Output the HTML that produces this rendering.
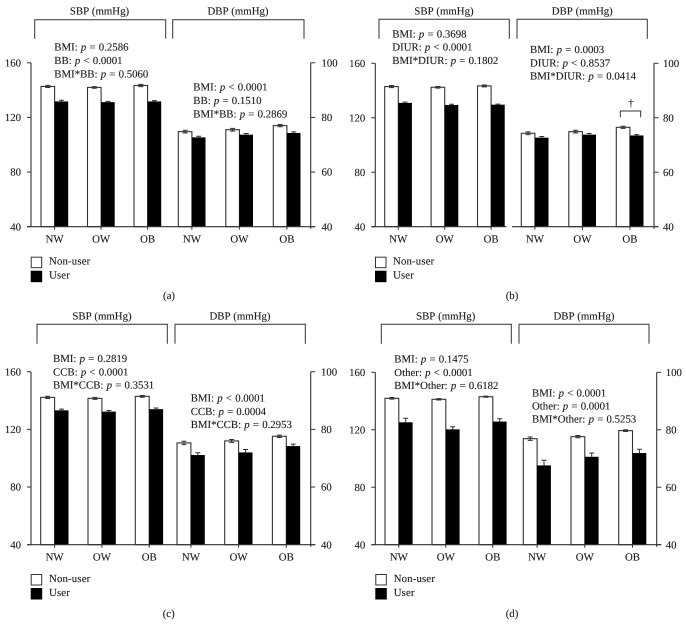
<!DOCTYPE html>
<html lang="en">
<head>
<meta charset="utf-8">
<title>Blood pressure by BMI and medication use</title>
<style>
html,body{margin:0;padding:0;background:#fff;}
#figure{display:block;width:686px;height:636px;}
text{font-family:"Liberation Serif",serif;font-size:10.8px;fill:#1c1c1c;stroke:#1c1c1c;stroke-width:.12px;text-rendering:geometricPrecision;}
.note{word-spacing:.5px;}
.note tspan{font-style:italic;}
</style>
</head>
<body>
<svg id="figure" xmlns="http://www.w3.org/2000/svg" width="686" height="636" viewBox="0 0 686 636">
<g id="marks"></g>

<g>
<text class="note" x="54.3" y="50.7">BMI: <tspan>p</tspan> = 0.2586</text>
<text class="note" x="54.3" y="64">BB: <tspan>p</tspan> &lt; 0.0001</text>
<text class="note" x="54.3" y="77.5">BMI*BB: <tspan>p</tspan> = 0.5060</text>
<text class="note" x="193.3" y="90.7">BMI: <tspan>p</tspan> &lt; 0.0001</text>
<text class="note" x="193.3" y="104">BB: <tspan>p</tspan> = 0.1510</text>
<text class="note" x="193.3" y="117.3">BMI*BB: <tspan>p</tspan> = 0.2869</text>
</g>

<g>
<text class="note" x="392.3" y="37.3">BMI: <tspan>p</tspan> = 0.3698</text>
<text class="note" x="392.3" y="50.7">DIUR: <tspan>p</tspan> &lt; 0.0001</text>
<text class="note" x="392.3" y="64">BMI*DIUR: <tspan>p</tspan> = 0.1802</text>
<text class="note" x="530" y="53">BMI: <tspan>p</tspan> = 0.0003</text>
<text class="note" x="530" y="66.3">DIUR: <tspan>p</tspan> &lt; 0.8537</text>
<text class="note" x="530" y="79.5">BMI*DIUR: <tspan>p</tspan> = 0.0414</text>
<path d="M620.3 117.3V111H640.7V117.3" fill="none" stroke="#333" stroke-width="1"/>
<text x="631" y="106.7" text-anchor="middle">†</text>
</g>

<g>
<text class="note" x="53" y="362">BMI: <tspan>p</tspan> = 0.2819</text>
<text class="note" x="53" y="375.3">CCB: <tspan>p</tspan> &lt; 0.0001</text>
<text class="note" x="53" y="388.5">BMI*CCB: <tspan>p</tspan> = 0.3531</text>
<text class="note" x="190.7" y="401.7">BMI: <tspan>p</tspan> &lt; 0.0001</text>
<text class="note" x="190.7" y="414.8">CCB: <tspan>p</tspan> = 0.0004</text>
<text class="note" x="190.7" y="428">BMI*CCB: <tspan>p</tspan> = 0.2953</text>
</g>

<g>
<text class="note" x="394.3" y="362.7">BMI: <tspan>p</tspan> = 0.1475</text>
<text class="note" x="394.3" y="376">Other: <tspan>p</tspan> &lt; 0.0001</text>
<text class="note" x="394.3" y="389.2">BMI*Other: <tspan>p</tspan> = 0.6182</text>
<text class="note" x="532" y="396.3">BMI: <tspan>p</tspan> &lt; 0.0001</text>
<text class="note" x="532" y="409.5">Other: <tspan>p</tspan> = 0.0001</text>
<text class="note" x="532" y="422.7">BMI*Other: <tspan>p</tspan> = 0.5253</text>
</g>
</svg>

<script>
const categories = ['NW', 'OW', 'OB'];
const leftTicks = [40, 80, 120, 160];
const rightTicks = [40, 60, 80, 100];
const groupTitles = ['SBP (mmHg)', 'DBP (mmHg)'];
const legendLabels = ['Non-user', 'User'];
const panelCaptions = ['(a)', '(b)', '(c)', '(d)'];

const sbpNonUserA = [142.7, 142.0, 143.4];
const sbpUserA = [131.7, 131.2, 131.7];
const dbpNonUserA = [74.8, 75.5, 77.0];
const dbpUserA = [72.7, 73.7, 74.3];
const sbpNonUserErrA = [0.8, 0.6, 0.8];
const sbpUserErrA = [0.9, 0.6, 0.6];
const dbpNonUserErrA = [0.5, 0.5, 0.4];
const dbpUserErrA = [0.4, 0.4, 0.4];

const sbpNonUserB = [142.9, 142.4, 143.4];
const sbpUserB = [130.9, 129.4, 129.6];
const dbpNonUserB = [74.3, 74.9, 76.5];
const dbpUserB = [72.7, 73.8, 73.5];
const sbpNonUserErrB = [0.8, 0.6, 0.7];
const sbpUserErrB = [0.6, 0.5, 0.4];
const dbpNonUserErrB = [0.5, 0.5, 0.4];
const dbpUserErrB = [0.4, 0.4, 0.3];

const sbpNonUserC = [142.2, 141.5, 142.9];
const sbpUserC = [133.2, 132.3, 134.0];
const dbpNonUserC = [75.3, 76.0, 77.6];
const dbpUserC = [71.1, 72.0, 74.2];
const sbpNonUserErrC = [0.8, 0.7, 0.6];
const sbpUserErrC = [0.8, 0.8, 0.8];
const dbpNonUserErrC = [0.6, 0.5, 0.4];
const dbpUserErrC = [0.8, 1.0, 0.7];

const sbpNonUserD = [141.9, 141.2, 143.0];
const sbpUserD = [125.2, 120.3, 125.7];
const dbpNonUserD = [76.9, 77.6, 79.7];
const dbpUserD = [67.6, 70.6, 71.9];
const sbpNonUserErrD = [0.6, 0.5, 0.4];
const sbpUserErrD = [2.8, 1.8, 2.0];
const dbpNonUserErrD = [0.6, 0.4, 0.3];
const dbpUserErrD = [1.8, 1.3, 1.3];

const panelLayouts = [
  {id: 'a', left: 31, right: 310.7, top: 62.8, bottom: 226.7, sbpStart: 41, sbpPitch: 46.5, dbpStart: 178.3, dbpPitch: 47.5, barW: 13.6,
   headL: [34.7, 165.7], headR: [172.7, 304], headTop: 19.7, headBottom: 38.7, titleY: 14.7, titleX: [99.5, 238], catY: 242.3,
   legX: 30.7, legY: [256.7, 270.7], legTextX: 49, legTextY: [264.7, 278.7], capX: 169, capY: 299, rightLabelX: 321.5, gap: null,
   sbpNon: sbpNonUserA, sbpUser: sbpUserA, dbpNon: dbpNonUserA, dbpUser: dbpUserA,
   sbpNonErr: sbpNonUserErrA, sbpUserErr: sbpUserErrA, dbpNonErr: dbpNonUserErrA, dbpUserErr: dbpUserErrA},
  {id: 'b', left: 375.3, right: 654, top: 63.3, bottom: 226.7, sbpStart: 384.7, sbpPitch: 46.4, dbpStart: 521.3, dbpPitch: 47.5, barW: 13.6,
   headL: [379, 509.3], headR: [517, 647.3], headTop: 19.3, headBottom: 38.7, titleY: 14.5, titleX: [444, 582.3], catY: 242.3,
   legX: 375, legY: [256.7, 270.7], legTextX: 393, legTextY: [264.7, 278.7], capX: 512, capY: 299, rightLabelX: 663, gap: [506.5, 512],
   sbpNon: sbpNonUserB, sbpUser: sbpUserB, dbpNon: dbpNonUserB, dbpUser: dbpUserB,
   sbpNonErr: sbpNonUserErrB, sbpUserErr: sbpUserErrB, dbpNonErr: dbpNonUserErrB, dbpUserErr: dbpUserErrB},
  {id: 'c', left: 31, right: 310.7, top: 371.7, bottom: 544.7, sbpStart: 40.7, sbpPitch: 47.3, dbpStart: 177, dbpPitch: 47.7, barW: 13.9,
   headL: [37, 167.3], headR: [175, 305.3], headTop: 324.3, headBottom: 343.7, titleY: 319.7, titleX: [102, 240], catY: 560.3,
   legX: 30.7, legY: [574, 588], legTextX: 49, legTextY: [582, 596], capX: 168.7, capY: 617, rightLabelX: 321, gap: null,
   sbpNon: sbpNonUserC, sbpUser: sbpUserC, dbpNon: dbpNonUserC, dbpUser: dbpUserC,
   sbpNonErr: sbpNonUserErrC, sbpUserErr: sbpUserErrC, dbpNonErr: dbpNonUserErrC, dbpUserErr: dbpUserErrC},
  {id: 'd', left: 375.3, right: 656.7, top: 372.3, bottom: 544.7, sbpStart: 385, sbpPitch: 47, dbpStart: 523.3, dbpPitch: 47.7, barW: 13.8,
   headL: [381.3, 511.3], headR: [519, 649], headTop: 324.3, headBottom: 343.7, titleY: 319.7, titleX: [445.7, 584], catY: 560.3,
   legX: 375.3, legY: [574, 588], legTextX: 393.7, legTextY: [582, 596], capX: 512, capY: 617, rightLabelX: 665.7, gap: null,
   sbpNon: sbpNonUserD, sbpUser: sbpUserD, dbpNon: dbpNonUserD, dbpUser: dbpUserD,
   sbpNonErr: sbpNonUserErrD, sbpUserErr: sbpUserErrD, dbpNonErr: dbpNonUserErrD, dbpUserErr: dbpUserErrD}
];

const SVG_NS = 'http://www.w3.org/2000/svg';
const INK = '#333';
const marksRoot = document.getElementById('marks');

function make(parent, tag, props, content) {
  const el = document.createElementNS(SVG_NS, tag);
  Object.keys(props).forEach(function (k) { el.setAttribute(k, props[k]); });
  if (content !== undefined) el.textContent = content;
  parent.appendChild(el);
  return el;
}

function linearAxis(domainMin, domainMax, rangeBottom, rangeTop) {
  return function (v) {
    return rangeBottom + (v - domainMin) / (domainMax - domainMin) * (rangeTop - rangeBottom);
  };
}

function drawGroup(g, p, label, start, pitch, nonVals, userVals, nonErr, userErr, yScale) {
  categories.forEach(function (cat, i) {
    const x0 = start + pitch * i;
    const yNon = yScale(nonVals[i]);
    const yUser = yScale(userVals[i]);

    const nonBar = make(g, 'rect', {x: x0, y: yNon, width: p.barW, height: p.bottom - yNon, fill: '#fff', stroke: INK, 'stroke-width': 1.1});
    
    

    const userBar = make(g, 'rect', {x: x0 + p.barW, y: yUser, width: p.barW, height: p.bottom - yUser, fill: '#000'});
    
    

    const cxNon = x0 + p.barW / 2;
    const hiNon = yScale(nonVals[i] + nonErr[i]);
    const loNon = yScale(nonVals[i] - nonErr[i]);
    const errNon = make(g, 'path', {
      d: 'M' + (cxNon - 2.5) + ' ' + hiNon + 'H' + (cxNon + 2.5) + 'M' + cxNon + ' ' + hiNon + 'V' + loNon + 'M' + (cxNon - 2.5) + ' ' + loNon + 'H' + (cxNon + 2.5),
      fill: 'none', stroke: INK, 'stroke-width': 1
    });
    
    

    const cxUser = x0 + p.barW * 1.5;
    const hiUser = yScale(userVals[i] + userErr[i]);
    const errUser = make(g, 'path', {
      d: 'M' + (cxUser - 2.5) + ' ' + hiUser + 'H' + (cxUser + 2.5) + 'M' + cxUser + ' ' + hiUser + 'V' + yUser,
      fill: 'none', stroke: INK, 'stroke-width': 1
    });
    
    

    const tickX = x0 + p.barW;
    const catTick = make(g, 'line', {x1: tickX, x2: tickX, y1: p.bottom, y2: p.bottom + 3, stroke: INK, 'stroke-width': 1});
    
    

    const catLabel = make(g, 'text', {x: tickX, y: p.catY, 'text-anchor': 'middle'}, cat);
    
    
  });
}

panelLayouts.forEach(function (p, idx) {
  const g = make(marksRoot, 'g', {});
  
  

  const yLeft = linearAxis(leftTicks[0], leftTicks[leftTicks.length - 1], p.bottom, p.top);
  const yRight = linearAxis(rightTicks[0], rightTicks[rightTicks.length - 1], p.bottom, p.top);

  drawGroup(g, p, 'sbp', p.sbpStart, p.sbpPitch, p.sbpNon, p.sbpUser, p.sbpNonErr, p.sbpUserErr, yLeft);
  drawGroup(g, p, 'dbp', p.dbpStart, p.dbpPitch, p.dbpNon, p.dbpUser, p.dbpNonErr, p.dbpUserErr, yRight);

  const leftAxis = make(g, 'line', {x1: p.left, x2: p.left, y1: p.top, y2: p.bottom, stroke: INK, 'stroke-width': 1.1});
  
  

  const rightAxis = make(g, 'line', {x1: p.right, x2: p.right, y1: p.top, y2: p.bottom + 2, stroke: INK, 'stroke-width': 1.1});
  
  

  const axisPath = p.gap
    ? 'M' + (p.left - 4) + ' ' + p.bottom + 'H' + p.gap[0] + 'M' + p.gap[1] + ' ' + p.bottom + 'H' + (p.right + 4.5)
    : 'M' + (p.left - 4) + ' ' + p.bottom + 'H' + (p.right + 4.5);
  const xAxis = make(g, 'path', {d: axisPath, fill: 'none', stroke: INK, 'stroke-width': 1.1});
  
  

  leftTicks.forEach(function (t) {
    const y = yLeft(t);
    const tick = make(g, 'line', {x1: p.left - 4, x2: p.left, y1: y, y2: y, stroke: INK, 'stroke-width': 1});
    
    
    const lab = make(g, 'text', {x: p.left - 10, y: y + 3.6, 'text-anchor': 'end'}, String(t));
    
    
  });

  rightTicks.forEach(function (t) {
    const y = yRight(t);
    const tick = make(g, 'line', {x1: p.right, x2: p.right + 4.5, y1: y, y2: y, stroke: INK, 'stroke-width': 1});
    
    
    const lab = make(g, 'text', {x: p.rightLabelX, y: y + 3.6}, String(t));
    
    
  });

  [p.headL, p.headR].forEach(function (span, k) {
    const bracket = make(g, 'path', {
      d: 'M' + span[0] + ' ' + p.headBottom + 'V' + p.headTop + 'H' + span[1] + 'V' + p.headBottom,
      fill: 'none', stroke: INK, 'stroke-width': 1
    });
    
    
    const title = make(g, 'text', {x: p.titleX[k], y: p.titleY, 'text-anchor': 'middle', 'word-spacing': '.5'}, groupTitles[k]);
    
    
  });

  legendLabels.forEach(function (name, k) {
    const swatch = make(g, 'rect', {
      x: p.legX + 0.5, y: p.legY[k] + 0.5, width: 10.5, height: 10.5,
      fill: k === 0 ? '#fff' : '#000', stroke: k === 0 ? INK : '#000', 'stroke-width': 1
    });
    
    
    const lab = make(g, 'text', {x: p.legTextX, y: p.legTextY[k], 'letter-spacing': '.15'}, name);
    
    
  });

  const caption = make(g, 'text', {x: p.capX, y: p.capY, 'text-anchor': 'middle'}, panelCaptions[idx]);
  
  
});
</script>
</body>
</html>
